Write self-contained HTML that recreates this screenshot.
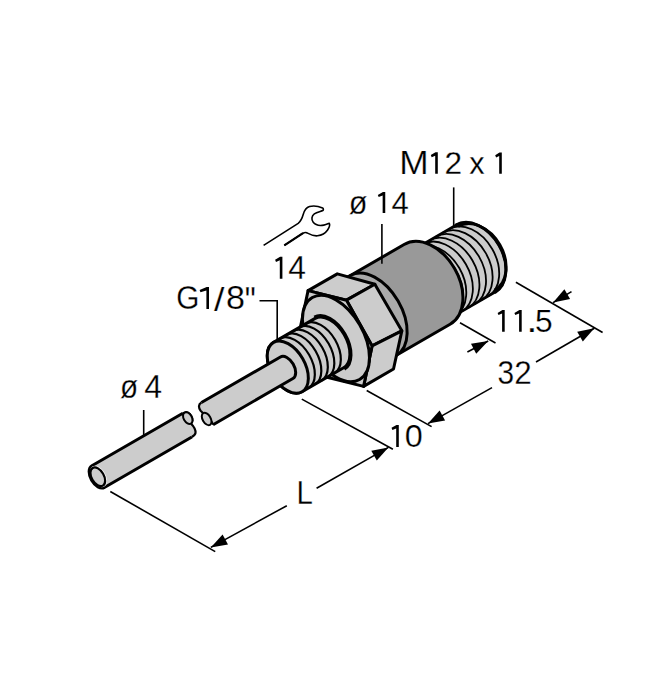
<!DOCTYPE html>
<html><head><meta charset="utf-8"><style>html,body{margin:0;padding:0;background:#fff;}svg{display:block;}</style></head>
<body><svg width="653" height="700" viewBox="0 0 653 700">
<rect width="653" height="700" fill="#fff"/>

<g stroke="#000" stroke-width="1.6" fill="none" stroke-linecap="butt">
<line x1="453.7" y1="187.4" x2="453.7" y2="227"/>
<polyline points="259.5,300.7 277.2,300.7 277.2,339"/>
<line x1="143.7" y1="410" x2="143.7" y2="435"/>
<line x1="515.9" y1="282.3" x2="602.6" y2="332.5"/>
<line x1="460" y1="322.7" x2="495.5" y2="343"/>
<line x1="301.8" y1="399.1" x2="392.9" y2="449.3"/>
<line x1="366.7" y1="390.5" x2="431.6" y2="426.6"/>
<line x1="110.3" y1="491.5" x2="215.2" y2="551.6"/>
<line x1="428" y1="423.6" x2="492" y2="387.6"/>
<line x1="536" y1="362" x2="594.3" y2="328.3"/>
<line x1="210.8" y1="547.4" x2="286.8" y2="505.7"/>
<line x1="316.6" y1="488.3" x2="388.4" y2="447.4"/>
<line x1="467.4" y1="352" x2="488.2" y2="341"/>
<line x1="571.5" y1="291.6" x2="553.1" y2="302.6"/>
</g>

<polygon points="428.0,423.6 445.1,420.4 439.6,410.6" fill="#000"/><polygon points="594.3,328.3 577.2,331.7 582.8,341.4" fill="#000"/><polygon points="210.8,547.4 228.0,544.4 222.6,534.6" fill="#000"/><polygon points="388.4,447.4 371.3,450.7 376.8,460.4" fill="#000"/><polygon points="488.2,341.0 471.0,343.8 476.2,353.7" fill="#000"/><polygon points="553.1,302.6 570.1,298.9 564.4,289.3" fill="#000"/>

<path d="M263.6,245.4 L298.2,223.4 C300.5,221.5 302.2,218 303.2,214.5 C304.3,210.5 306,207.5 309.5,206.5 C313.5,205.5 318.5,206.2 322.6,207.9 C323.6,208.4 323.6,210 322.8,210.6 C320.5,211.5 316.8,212.2 314.3,213.8 C311.5,215.8 311.2,219.8 313.2,222.3 C315.5,225.2 320,225.8 323.8,225.1 C325.8,224.8 327.8,223.8 329.2,223.2 C330,224.5 329.3,227.5 327.6,230 C325.5,233 321.8,235.3 317.5,235.8 C313,236.3 309.5,234.2 306.8,232.8 C305.5,232.3 304.3,232.5 303,233.2 L284.3,245.4" fill="none" stroke="#000" stroke-width="1.6" stroke-linejoin="round"/>
<path d="M303,233.2 L284.3,245.4" fill="none" stroke="#000" stroke-width="2.2"/>

<g transform="translate(280,371.6) rotate(-30)" stroke-linejoin="round">
<path d="M150.00,-38.80 L225.50,-38.80 A27.16,38.80 0 0 1 225.50,38.80 L150.00,38.80 A27.16,38.80 0 0 1 150.00,-38.80 Z" fill="#cccccc" stroke="#000" stroke-width="2.6"/>
<path d="M217.90,-38.80 A27.16,38.80 0 0 1 217.90,38.80" fill="none" stroke="#000" stroke-width="1.8"/>
<path d="M210.30,-38.80 A27.16,38.80 0 0 1 210.30,38.80" fill="none" stroke="#000" stroke-width="1.8"/>
<path d="M202.70,-38.80 A27.16,38.80 0 0 1 202.70,38.80" fill="none" stroke="#000" stroke-width="1.8"/>
<path d="M195.10,-38.80 A27.16,38.80 0 0 1 195.10,38.80" fill="none" stroke="#000" stroke-width="1.8"/>
<path d="M187.50,-38.80 A27.16,38.80 0 0 1 187.50,38.80" fill="none" stroke="#000" stroke-width="1.8"/>
<path d="M179.90,-38.80 A27.16,38.80 0 0 1 179.90,38.80" fill="none" stroke="#000" stroke-width="1.8"/>
<path d="M174.00,-39.10 A25.81,39.10 0 0 1 174.00,39.10" fill="none" stroke="#000" stroke-width="1.5"/>
<path d="M176.60,-39.10 A25.81,39.10 0 0 1 176.60,39.10" fill="none" stroke="#000" stroke-width="2.6"/>
<path d="M225.50,-39.20 A27.44,39.20 0 0 1 225.50,39.20" fill="none" stroke="#000" stroke-width="2.5"/>
<path d="M226.80,-36.60 A27.08,36.60 0 0 1 226.80,36.60" fill="none" stroke="#000" stroke-width="2.8"/>
<path d="M100.00,-48.00 L171.00,-48.00 A31.74,46.00 0 0 1 171.00,44.00 L100.00,44.00 A31.74,46.00 0 0 1 100.00,-48.00 Z" fill="#999999" stroke="#000" stroke-width="3"/>
<path d="M95.00,-48.00 L109.00,-48.00 A28.52,46.00 0 0 1 109.00,44.00 L95.00,44.00 A28.52,46.00 0 0 1 95.00,-48.00 Z" fill="#aaaaaa" stroke="#000" stroke-width="3"/>
<polygon points="64.80,-56.10 98.50,-56.00 125.80,-28.20 93.30,-28.60" fill="#cccccc" stroke="#000" stroke-width="3" stroke-linejoin="round"/>
<polygon points="93.30,-28.60 125.80,-28.20 125.90,25.60 92.60,23.80" fill="#cccccc" stroke="#000" stroke-width="3" stroke-linejoin="round"/>
<polygon points="92.60,23.80 125.90,25.60 99.60,54.50 65.00,54.60" fill="#cccccc" stroke="#000" stroke-width="3" stroke-linejoin="round"/>
<polygon points="64.80,-56.10 93.30,-28.60 92.60,23.80 65.00,54.60 36.50,27.10 37.20,-25.30" fill="#cccccc" stroke="#000" stroke-width="3" stroke-linejoin="round"/>
<ellipse cx="65.00" cy="-0.70" rx="27.43" ry="47.30" fill="#cccccc" stroke="#000" stroke-width="3"/>
<path d="M9.00,-28.50 L57.00,-28.50 A17.10,28.50 0 0 1 57.00,28.50 L9.00,28.50 A17.10,28.50 0 0 1 9.00,-28.50 Z" fill="#cccccc" stroke="#000" stroke-width="3"/>
<path d="M57.00,-30.00 A18.00,30.00 0 0 1 57.00,30.00" fill="none" stroke="#000" stroke-width="3"/>
<path d="M16.50,-28.50 A17.10,28.50 0 0 1 16.50,28.50" fill="none" stroke="#000" stroke-width="2.2"/>
<path d="M24.00,-28.50 A17.10,28.50 0 0 1 24.00,28.50" fill="none" stroke="#000" stroke-width="2.2"/>
<path d="M31.50,-28.50 A17.10,28.50 0 0 1 31.50,28.50" fill="none" stroke="#000" stroke-width="2.2"/>
<path d="M39.00,-28.50 A17.10,28.50 0 0 1 39.00,28.50" fill="none" stroke="#000" stroke-width="2.2"/>
<path d="M46.50,-28.50 A17.10,28.50 0 0 1 46.50,28.50" fill="none" stroke="#000" stroke-width="2.2"/>
<ellipse cx="9.00" cy="0.00" rx="17.10" ry="28.50" fill="#cccccc" stroke="#000" stroke-width="3"/>
<path d="M-83.5,-12.5 L7.7,-12.5 A7.50,12.5 0 0 1 7.7,12.5 L-84.5,12.5 C-84.2,10.5 -84,7 -84.6,4 C-85.5,0 -88,-2.5 -88.3,-6 C-88.5,-9.5 -87.5,-12.5 -83.5,-12.5 Z" fill="#cccccc" stroke="none"/>
<path d="M-84.5,12.5 L7.7,12.5 A7.50,12.5 0 0 0 7.7,-12.5 L-83.5,-12.5" fill="none" stroke="#000" stroke-width="3"/>
<path d="M-83.5,-12.5 C-87.5,-12.5 -88.5,-9.5 -88.3,-6 C-88,-2.5 -85.5,0 -84.6,4 C-84,7 -84.2,10.5 -84.5,12.5" fill="none" stroke="#000" stroke-width="2.2"/>
<ellipse cx="-87.2" cy="4.3" rx="4.0" ry="6.8" fill="#cccccc" stroke="#000" stroke-width="2"/>
<path d="M-210,-12.5 L-105,-12.5 L-103.1,-12.2 A4.1,6.3 0 0 1 -103.1,0.4 C-102.3,3.5 -102.2,8.5 -103.8,10.8 C-104.8,12.2 -106.5,12.5 -109,12.5 L-210,12.5 A7.50,12.5 0 0 1 -210,-12.5 Z" fill="#cccccc" stroke="none"/>
<path d="M-105,-12.5 L-210,-12.5 A7.50,12.5 0 0 0 -210,12.5 L-109,12.5" fill="none" stroke="#000" stroke-width="3"/>
<path d="M-105,-12.5 C-104,-12.5 -103.5,-12 -103.1,-12.2 A4.1,6.3 0 0 1 -103.1,0.4 C-102.3,3.5 -102.2,8.5 -103.8,10.8 C-104.8,12.2 -106.5,12.5 -109,12.5" fill="none" stroke="#000" stroke-width="2.2"/>
<ellipse cx="-103.1" cy="-5.9" rx="4.1" ry="6.3" fill="#cccccc" stroke="#000" stroke-width="2"/>
<ellipse cx="-209.60" cy="0.00" rx="6.72" ry="11.20" fill="none" stroke="#f4f4f4" stroke-width="0.9"/>
<ellipse cx="-210.40" cy="0.00" rx="6.12" ry="10.20" fill="#cccccc" stroke="#000" stroke-width="2.2"/>
</g>
<line x1="381.9" y1="224" x2="381.9" y2="263.8" stroke="#000" stroke-width="1.6"/>
<g font-family="Liberation Sans, sans-serif" fill="#000"><text transform="translate(399.25,173.78) scale(0.3530,0.3261)" font-size="100" stroke="#fff" stroke-width="0.74">M</text><path d="M437.80,152.20 L437.80,173.65 L435.20,173.65 L435.20,155.63 L431.70,157.24 L430.80,155.10 L435.50,152.20 Z" fill="#000"/><text transform="translate(444.59,174.12) scale(0.3163,0.3207)" font-size="100" stroke="#fff" stroke-width="0.78">2</text><text transform="translate(469.37,174.12) scale(0.3073,0.3142)" font-size="100" stroke="#fff" stroke-width="0.80">x</text><path d="M501.80,152.50 L501.80,173.70 L499.20,173.70 L499.20,155.89 L496.10,157.48 L495.20,155.36 L499.50,152.50 Z" fill="#000"/><text transform="translate(348.86,213.96) scale(0.3064,0.3313)" font-size="100" stroke="#fff" stroke-width="0.78">ø</text><path d="M385.25,192.10 L385.25,213.10 L382.65,213.10 L382.65,195.46 L378.70,197.03 L377.80,194.94 L382.95,192.10 Z" fill="#000"/><text transform="translate(391.45,213.54) scale(0.3108,0.3125)" font-size="100" stroke="#fff" stroke-width="0.80">4</text><path d="M282.40,256.80 L282.40,278.70 L279.80,278.70 L279.80,260.30 L276.00,261.95 L275.10,259.76 L280.10,256.80 Z" fill="#000"/><text transform="translate(288.24,279.15) scale(0.3186,0.3257)" font-size="100" stroke="#fff" stroke-width="0.78">4</text><text transform="translate(176.19,309.40) scale(0.2977,0.3261)" font-size="100" stroke="#fff" stroke-width="0.80">G</text><path d="M209.00,287.10 L209.00,309.00 L206.40,309.00 L206.40,290.60 L200.50,292.25 L199.60,290.06 L206.70,287.10 Z" fill="#000"/><text transform="translate(214.07,311.12) scale(0.3768,0.3308)" font-size="100" stroke="#fff" stroke-width="0.71">/</text><text transform="translate(226.11,309.40) scale(0.3415,0.3261)" font-size="100" stroke="#fff" stroke-width="0.75">8</text><text transform="translate(244.74,314.10) scale(0.3093,0.3932)" font-size="100" stroke="#fff" stroke-width="0.71">&quot;</text><text transform="translate(119.98,398.27) scale(0.2973,0.3259)" font-size="100" stroke="#fff" stroke-width="0.80">ø</text><text transform="translate(144.33,398.10) scale(0.3206,0.3250)" font-size="100" stroke="#fff" stroke-width="0.77">4</text><path d="M504.70,310.00 L504.70,331.80 L502.10,331.80 L502.10,313.49 L498.50,315.12 L497.60,312.94 L502.40,310.00 Z" fill="#000"/><path d="M521.70,310.00 L521.70,331.80 L519.10,331.80 L519.10,313.49 L515.30,315.12 L514.40,312.94 L519.40,310.00 Z" fill="#000"/><text transform="translate(526.33,331.93) scale(0.4050,0.3682)" font-size="100" stroke="#fff" stroke-width="0.65">.</text><text transform="translate(534.90,332.21) scale(0.3181,0.3193)" font-size="100" stroke="#fff" stroke-width="0.78">5</text><text transform="translate(497.48,383.70) scale(0.2989,0.3246)" font-size="100" stroke="#fff" stroke-width="0.80">3</text><text transform="translate(514.30,384.02) scale(0.3141,0.3293)" font-size="100" stroke="#fff" stroke-width="0.78">2</text><path d="M398.80,424.90 L398.80,446.90 L396.20,446.90 L396.20,428.42 L392.40,430.07 L391.50,427.87 L396.50,424.90 Z" fill="#000"/><text transform="translate(404.78,447.00) scale(0.3240,0.3218)" font-size="100" stroke="#fff" stroke-width="0.77">0</text><text transform="translate(296.52,504.32) scale(0.2943,0.3355)" font-size="100" stroke="#fff" stroke-width="0.79">L</text></g>
</svg></body></html>
